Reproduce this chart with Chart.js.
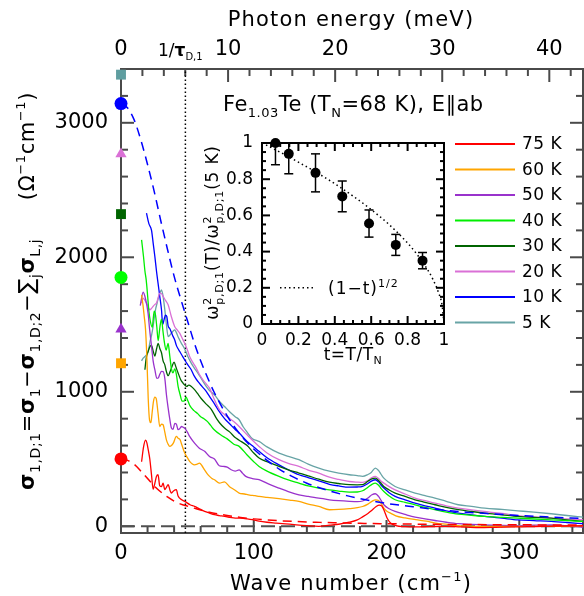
<!DOCTYPE html>
<html><head><meta charset="utf-8">
<script src="https://cdn.jsdelivr.net/npm/chart.js@4.4.1/dist/chart.umd.min.js"></script>
<style>
html,body{margin:0;padding:0;background:#fff;overflow:hidden}
#wrap{position:relative;width:584px;height:596px;overflow:hidden;background:#fff}
#main{position:absolute;left:0;top:0}
#inset{position:absolute;left:196px;top:122px}
</style></head><body>
<div id="wrap"><canvas id="main"></canvas><canvas id="inset"></canvas></div>
<script>
// ---------------- DATA ----------------
const temps = ['75 K','60 K','50 K','40 K','30 K','20 K','10 K','5 K'];
const colors = ['#ff0000','#ffa500','#9932cc','#00ee00','#006400','#da70d6','#0000ff','#68a4a6'];
const markerColors = ['#ff0000','#ffa500','#9932cc','#00ff00','#006400','#da70d6','#0000ff','#5f9ea0'];
const markerStyles = ['circle','rect','triangle','circle','rect','triangle','circle','rect'];
const sigmaD0 = [501, 1212, 1465, 1850, 2321, 2768, 3143, 3358];

const wn75 = [15.5,17,18.5,19.5,20.5,21.7,23,24.2,25.5,26.7,27.9,29.2,30.5,31.7,33,34.2,35.5,37,38,39.5,41.7,43,46,48,52,55.4,59,63,66.7,70.4,74,78,82,86,90,95,99,104,110,117,124,132,140,149,157,164,172,178,182,186,189,192,194.5,196.5,198.5,200.5,203,207,214,222,232,244,256,269,282,294,306,319,333,348];
const sig75 = [480,590,640,620,570,500,380,275,320,370,383,300,295,321,272,290,309,265,247,262,272,225,195,185,160,148,130,111,98,86,80,73,67,61,60,55,49,38,30,24,18,11,5,0,8,15,30,48,70,95,120,145,158,150,110,60,25,5,-3,-5,-2,0,-5,-10,-8,-5,-3,0,2,4];

const wn60 = [15.5,16.5,17.5,18.5,19.5,20.5,21.5,22.5,23.5,24.5,25.5,26.5,27.9,29.2,30.5,31.7,33,34.2,35.5,36.7,38,39.5,41.7,43,44.5,46,48,50,51.7,53.5,55.4,57,59.2,61,62.9,65,66.7,68.5,70.4,74.2,77.9,81.6,85.4,89,93,97,101,104,110,119,127,134,141,149,157,164,172,178,182,186,189,191.6,194,196,198,200.5,203,207,214,222,230,237,246,254,266,280,295,310,330,348];
const sig60 = [1720,1650,1560,1460,1250,950,790,770,850,930,960,950,842,742,760,755,700,643,610,594,600,620,668,655,643,600,544,510,482,465,457,460,470,450,420,390,371,355,346,321,330,296,272,247,240,232,228,222,215,205,195,185,165,148,123,125,131,138,147,165,185,197,192,170,135,110,98,78,62,49,38,24,14,4,0,-1,-1,0,0,4];

const wn50 = [14.5,16.7,18.5,20.4,21.5,23,24.2,25.5,27,28,29.2,30.5,31.7,33,34.2,35.5,36.7,38,39.2,40.5,41.7,43,44.2,45.5,47,48,50,51.7,55.4,59,63,66.7,70.4,74,77,80,83,86,89,91.5,94,99,104,111,119,126,134,141,149,157,164,172,178,182,186,189,191.6,194,196,198,202,206.5,214,221.5,229,236.5,245,254,264,274,287,299,311,324,336,348];
const sig50 = [1640,1740,1690,1585,1470,1337,1230,1164,1100,1102,1130,1151,1150,1100,980,880,800,730,720,765,760,718,725,742,735,730,700,668,618,581,557,519,500,450,445,440,420,410,420,395,371,355,346,315,284,258,234,222,210,197,190,185,183,188,210,234,242,222,190,160,130,110,88,68,55,43,30,19,14,11,6,4,8,11,2,-6];

const wn40 = [15.5,17,18,19,20,21,22,23.5,25,26,27,28,29.3,30.5,31.5,32.5,34,35.5,36.7,38,39.2,40.5,41.7,43,44.5,46,47.5,49,50.5,52,55,57.5,60,62.5,65,67.5,70,75,80,85,89,95,100,104,110,119,126,134,141,149,157,164,172,178,182,186,189,191.6,194,196,198,202,206.5,214,221.5,229,236.5,245,254,264,274,287,299,311,324,336,348];
const sig40 = [2130,2000,1900,1830,1720,1600,1530,1480,1600,1570,1480,1380,1480,1540,1460,1380,1310,1360,1270,1170,1140,1170,1130,1040,980,930,930,960,930,895,860,840,815,800,780,750,720,680,650,610,594,530,480,445,410,371,345,321,300,284,271,262,254,255,264,290,312,321,305,280,259,225,197,178,160,140,123,105,90,82,73,66,60,54,48,42,36];

const wn30 = [18,19,20.4,22,23,24.3,25.5,26.8,28,29.3,30.5,31.7,33,34.2,35.5,37,38.5,40,41.5,43,45,46.7,48,49.5,51,53,55,56.7,58.5,60.4,64,68,72,74.2,78,82,86,89,95,100,104,110,119,126,134,141,149,157,164,172,178,182,186,189,191.6,194,196,198,202,206.5,214,221.5,229,236.5,245,254,264,274,287,299,311,324,336,348];
const sig30 = [1164,1250,1300,1340,1345,1300,1265,1320,1360,1320,1290,1230,1200,1150,1120,1150,1190,1220,1180,1140,1090,1065,1050,1040,1050,1040,1020,1000,975,950,910,870,800,770,730,700,660,640,600,545,507,480,445,420,396,375,350,328,318,309,308,309,335,352,358,340,318,296,270,247,222,197,178,160,140,123,110,98,85,73,66,61,48,36];

const wn20 = [15.5,16.7,18,19.2,20.5,21.7,23,24.2,25.5,26.7,28,29.2,30.5,31.7,33.5,35.5,37.9,40.4,42.3,44.2,46,47.9,50,51.7,54,56.7,59,61.7,64,66.7,70,74.2,78,82,86,89,95,100,104,110,119,126,134,141,149,157,164,172,178,182,186,189,191.6,194,196,198,202,206.5,214,221.5,229,236.5,245,254,264,274,287,299,311,324,336,348];
const sig20 = [1659,1697,1680,1659,1630,1610,1620,1635,1650,1659,1700,1734,1730,1709,1680,1647,1560,1486,1460,1436,1400,1362,1310,1263,1220,1176,1130,1089,1060,1027,950,866,830,800,770,742,680,630,594,545,495,468,445,418,395,365,348,333,328,326,340,362,371,355,335,321,295,271,240,210,190,172,152,135,122,110,95,79,70,61,55,48];

const wn10 = [19.2,21,23,24.3,25.5,26.7,27.9,29.2,30.5,31.4,32.4,33.5,34.5,35.5,36.7,38,39.2,40.4,41.7,43,44.2,46,47.9,50,52.9,55,57.9,61,64.2,67,70.4,74.2,78,82,86,89,95,100,104,110,119,126,134,141,149,157,164,172,178,182,186,189,191.6,194,196,198,202,206.5,214,221.5,229,236.5,245,254,264,274,287,299,311,324,336,348];
const sig10 = [2328,2250,2200,2100,2006,1900,1808,1710,1610,1500,1535,1570,1560,1490,1470,1440,1412,1387,1345,1320,1300,1270,1238,1205,1164,1120,1077,1040,1003,960,910,850,800,760,720,693,630,590,557,510,457,420,383,362,338,312,300,291,292,297,318,338,346,330,305,284,250,222,196,172,152,135,115,98,85,73,60,48,42,36,28,19];

const wn5 = [15.5,16.7,18,19.2,20.5,22,23,24.2,25.2,26.2,27.2,28.2,29.2,30.5,31.7,33,34.2,35.5,36.7,37.9,39.2,40.4,41.7,42.9,44.2,45.4,47.9,50,52.9,55,57.9,61,64.2,67,70.4,74.2,78,82,86,89,92,95,99,101.5,104,110,119,126,134,141,149,157,164,172,178,182,186,188.5,191.6,194,196,198,202,206.5,214,221.5,229,236.5,245,254,264,274,287,299,311,324,336,348];
const sig5 = [1230,1250,1262,1275,1300,1380,1420,1486,1560,1620,1660,1700,1730,1758,1710,1610,1500,1411,1420,1436,1450,1461,1440,1411,1385,1362,1320,1270,1213,1180,1139,1090,1040,1005,978,928,890,850,815,792,740,700,650,640,631,590,544,520,495,462,433,410,395,383,377,371,385,400,433,415,385,358,325,296,270,247,228,210,185,160,148,135,125,115,105,93,80,68];

const wnFit = [0,5,10,15,20,25,30,35,40,45,50,55,60,65,70,80,90,100,110,120,130,140,150,160,170,180,190,200,220,240,260,280,300,320,348];
const fit10 = [3143,3110,3020,2870,2690,2490,2270,2060,1860,1690,1530,1370,1230,1110,1000,820,680,575,490,420,365,320,285,255,228,205,187,170,145,122,105,92,80,70,58];
const fit75 = [501,490,460,410,355,300,255,218,187,165,150,135,120,108,97,80,66,55,47,41,36,32,29,26,24,22,20,19,16,14,13,12,11,10,9];

const zeroX = [0, 348];
const zeroY = [0, 0];
const tauInv = 48.5;          // 1/tau_D,1 in cm^-1
const cmPerMeV = 8.0655;
const xMin = 0, xMax = 348, yMin = -50, yMax = 3400;
const xTickVals = [0, 100, 200, 300];
const yTickVals = [0, 1000, 2000, 3000];
const meVTickVals = [0, 10, 20, 30, 40];

// inset
const tVals = [0.074, 0.147, 0.294, 0.441, 0.588, 0.735, 0.882];
const ratioVals = [1.0, 0.94, 0.835, 0.705, 0.555, 0.437, 0.35];
const ratioErr = [0.12, 0.11, 0.105, 0.085, 0.075, 0.058, 0.045];
const tCurve = [0, 0.1, 0.2, 0.3, 0.4, 0.5, 0.6, 0.7, 0.8, 0.85, 0.9, 0.94, 0.97, 0.99, 1];
const yCurve = [1, 0.949, 0.894, 0.837, 0.775, 0.707, 0.632, 0.548, 0.447, 0.387, 0.316, 0.245, 0.173, 0.1, 0];
const insetTickVals = [0, 0.2, 0.4, 0.6, 0.8, 1];
const insetTickLabels = ['0', '0.2', '0.4', '0.6', '0.8', '1'];

// ---------------- HELPERS ----------------
const FONT = '"DejaVu Sans", sans-serif';
Chart.defaults.font.family = FONT;
Chart.defaults.color = '#000';
const pts = (xs, ys) => xs.map((x, i) => ({x: x, y: ys[i]}));

function segSize(s, base) { return s.size || ((s.sub || s.sup || s.stack) ? Math.round(base * 0.66) : base); }
function segFont(s, base) { return (s.b ? 'bold ' : '') + segSize(s, base) + 'px ' + FONT; }
function segW(ctx, s, base) {
  ctx.font = segFont(s, base);
  if (s.stack) return Math.max(ctx.measureText(s.stack[0]).width, ctx.measureText(s.stack[1]).width);
  return ctx.measureText(s.t).width;
}
function drawRich(ctx, x, y, segs, base, align, ls) {
  ctx.save();
  try { ctx.letterSpacing = ls || '0px'; } catch (e) {}
  ctx.textBaseline = 'alphabetic'; ctx.textAlign = 'left'; ctx.fillStyle = '#000';
  const ws = segs.map(s => segW(ctx, s, base));
  const total = ws.reduce((a, b) => a + b, 0);
  let cx = align === 'center' ? x - total / 2 : (align === 'right' ? x - total : x);
  segs.forEach((s, i) => {
    ctx.font = segFont(s, base);
    if (s.stack) {
      ctx.fillText(s.stack[0], cx, y - base * 0.42);
      ctx.fillText(s.stack[1], cx, y + base * 0.3);
    } else {
      const dy = s.dy != null ? s.dy : (s.sub ? base * 0.3 : (s.sup ? -base * 0.42 : 0));
      ctx.fillText(s.t, cx, y + dy);
    }
    cx += ws[i];
  });
  ctx.restore();
  return total;
}
function tick(ctx, x1, y1, x2, y2) { ctx.beginPath(); ctx.moveTo(x1, y1); ctx.lineTo(x2, y2); ctx.stroke(); }

// ---------------- MAIN CHART ----------------
const mainDecor = {
  id: 'mainDecor',
  beforeDatasetsDraw(chart) {
    const ctx = chart.ctx, a = chart.chartArea;
    const xs = chart.scales.x, ys = chart.scales.y, xt = chart.scales.x2;
    ctx.save();
    ctx.strokeStyle = '#4a4a4a'; ctx.lineWidth = 2;
    ctx.strokeRect(a.left, a.top, a.right - a.left, a.bottom - a.top);
    for (let v = 0; v <= yMax; v += 200) {
      const L = (v % 1000 === 0) ? 13 : 7, py = ys.getPixelForValue(v);
      tick(ctx, a.left, py, a.left + L, py);
      tick(ctx, a.right, py, a.right - L, py);
    }
    for (let v = 0; v <= xMax; v += 20) {
      const L = (v % 100 === 0) ? 13 : 7, px = xs.getPixelForValue(v);
      tick(ctx, px, a.bottom, px, a.bottom - L);
    }
    for (let v = 0; v <= xMax / cmPerMeV; v += 2) {
      const L = (v % 10 === 0) ? 13 : 7, px = xt.getPixelForValue(v);
      tick(ctx, px, a.top, px, a.top + L);
    }
    ctx.restore();
  },
  afterDraw(chart) {
    const ctx = chart.ctx, a = chart.chartArea;
    const cx = (a.left + a.right) / 2;
    // axis titles
    drawRich(ctx, cx - 1, 26, [{t: 'Photon energy (meV)'}], 21, 'center', '1.2px');
    drawRich(ctx, cx - 1, 590, [{t: 'Wave number (cm'}, {t: '−1', sup: true, size: 13}, {t: ')'}], 21, 'center', '1.2px');
    // 1/tau label
    const tx = chart.scales.x.getPixelForValue(tauInv);
    ctx.save(); ctx.translate(tx, 56);
    ctx.font = '17px ' + FONT;
    const w1 = (function(){ ctx.font = '17px ' + FONT; const a1 = ctx.measureText('1/').width; ctx.font = 'bold 17px ' + FONT; return a1 + ctx.measureText('τ').width; })();
    ctx.restore();
    drawRich(ctx, tx - w1, 56, [{t: '1/'}, {t: 'τ', b: true}, {t: 'D,1', size: 10, dy: 4}], 17, 'left', '0px');
    // y title (rotated)
    const formula = [
      {t: 'σ', b: true}, {t: '1,D;1', sub: true, size: 14},
      {t: '='}, {t: 'σ', b: true}, {t: '1', sub: true, size: 14},
      {t: '−'}, {t: 'σ', b: true}, {t: '1,D;2', sub: true, size: 14},
      {t: '−'}, {t: '∑', size: 22}, {t: 'j', sub: true, size: 14},
      {t: 'σ', b: true}, {t: 'L,j', sub: true, size: 14}
    ];
    const unit = [{t: '(Ω'}, {t: '−1', sup: true, size: 13}, {t: 'cm'}, {t: '−1', sup: true, size: 13}, {t: ')'}];
    ctx.save(); ctx.translate(34, 490); ctx.rotate(-Math.PI / 2);
    drawRich(ctx, 0, 0, formula, 21, 'left', '0.6px'); ctx.restore();
    ctx.save(); ctx.translate(34, 92); ctx.rotate(-Math.PI / 2);
    drawRich(ctx, 0, 0, unit, 21, 'right', '0.6px'); ctx.restore();
    // annotation
    drawRich(ctx, 223, 111, [{t: 'Fe'}, {t: '1.03', sub: true, size: 13}, {t: 'Te (T'}, {t: 'N', sub: true, size: 13}, {t: '=68 K), E∥ab'}], 21, 'left', '0.5px');
    // legend
    ctx.save();
    ctx.font = '17px ' + FONT; ctx.textBaseline = 'middle'; ctx.fillStyle = '#000';
    try { ctx.letterSpacing = '0.5px'; } catch (e) {}
    temps.forEach((lab, i) => {
      const y = 144 + i * 25.5;
      ctx.strokeStyle = colors[i]; ctx.lineWidth = 2;
      tick(ctx, 455, y, 515, y);
      ctx.fillText(lab, 522, y + 1);
    });
    ctx.restore();
  }
};

const datasets = [];
temps.forEach((t, i) => datasets.push({
  label: 'σD(0) ' + t, data: [{x: 0, y: sigmaD0[i]}], showLine: false,
  pointStyle: markerStyles[i], pointRadius: markerStyles[i] === 'rect' ? 7 : (markerStyles[i] === 'triangle' ? 6.5 : 6.5),
  pointBackgroundColor: markerColors[i], pointBorderColor: markerColors[i], pointBorderWidth: 0, clip: false
}));
datasets.push({label: 'fit 10 K', data: pts(wnFit, fit10), borderColor: '#0000ff', borderWidth: 1.5, borderDash: [9, 6], pointRadius: 0, cubicInterpolationMode: 'monotone'});
datasets.push({label: 'fit 75 K', data: pts(wnFit, fit75), borderColor: '#ff0000', borderWidth: 1.5, borderDash: [9, 6], pointRadius: 0, cubicInterpolationMode: 'monotone'});
const seriesWn = [wn75, wn60, wn50, wn40, wn30, wn20, wn10, wn5];
const seriesSig = [sig75, sig60, sig50, sig40, sig30, sig20, sig10, sig5];
temps.forEach((t, i) => datasets.push({
  label: t, data: pts(seriesWn[i], seriesSig[i]), borderColor: colors[i], borderWidth: 1.3,
  pointRadius: 0, cubicInterpolationMode: 'monotone'
}));
datasets.push({label: '1/tau', data: [{x: tauInv, y: yMin}, {x: tauInv, y: yMax}], borderColor: '#000', borderWidth: 1.5, borderDash: [1.5, 2.5], pointRadius: 0});
datasets.push({label: 'zero', data: pts(zeroX, zeroY), borderColor: '#505050', borderWidth: 2, borderDash: [14, 6], pointRadius: 0});

const mainCanvas = document.getElementById('main');
mainCanvas.width = 590; mainCanvas.height = 596;
new Chart(mainCanvas, {
  type: 'line',
  data: {datasets: datasets},
  options: {
    responsive: false, animation: false, events: [],
    layout: {padding: {left: 0, right: 5, top: 0, bottom: 0}},
    plugins: {legend: {display: false}, tooltip: {enabled: false}},
    scales: {
      x: {
        type: 'linear', position: 'bottom', min: xMin, max: xMax,
        grid: {display: false, drawTicks: false}, border: {display: false},
        ticks: {font: {size: 21}, color: '#000', padding: 8, maxRotation: 0, autoSkip: false, callback: v => String(v)},
        afterBuildTicks: s => { s.ticks = xTickVals.map(v => ({value: v})); },
        afterFit: s => { s.height = 63; }
      },
      x2: {
        type: 'linear', position: 'top', min: 0, max: xMax / cmPerMeV,
        grid: {display: false, drawTicks: false}, border: {display: false},
        ticks: {font: {size: 21}, color: '#000', padding: 7, maxRotation: 0, autoSkip: false, callback: v => String(v)},
        afterBuildTicks: s => { s.ticks = meVTickVals.map(v => ({value: v})); },
        afterFit: s => { s.height = 69; }
      },
      y: {
        type: 'linear', position: 'left', min: yMin, max: yMax,
        grid: {display: false, drawTicks: false}, border: {display: false},
        ticks: {font: {size: 21}, color: '#000', padding: 13, autoSkip: false, callback: v => String(v)},
        afterBuildTicks: s => { s.ticks = yTickVals.map(v => ({value: v})); },
        afterFit: s => { s.width = 121; }
      }
    }
  },
  plugins: [mainDecor]
});

// ---------------- INSET ----------------
const insetDecor = {
  id: 'insetDecor',
  beforeDatasetsDraw(chart) {
    const ctx = chart.ctx, a = chart.chartArea, xs = chart.scales.x, ys = chart.scales.y;
    ctx.save();
    ctx.strokeStyle = '#000'; ctx.lineWidth = 2;
    ctx.strokeRect(a.left, a.top, a.right - a.left, a.bottom - a.top);
    for (let k = 0; k <= 20; k++) {
      const v = k * 0.05, L = (k % 4 === 0) ? 8 : 4;
      const px = xs.getPixelForValue(v), py = ys.getPixelForValue(v);
      tick(ctx, px, a.bottom, px, a.bottom - L); tick(ctx, px, a.top, px, a.top + L);
      tick(ctx, a.left, py, a.left + L, py); tick(ctx, a.right, py, a.right - L, py);
    }
    // error bars
    ctx.beginPath(); ctx.rect(a.left, a.top, a.right - a.left, a.bottom - a.top); ctx.clip();
    ctx.lineWidth = 1.5;
    tVals.forEach((t, i) => {
      const px = xs.getPixelForValue(t);
      const y1 = ys.getPixelForValue(ratioVals[i] + ratioErr[i]);
      const y2 = ys.getPixelForValue(ratioVals[i] - ratioErr[i]);
      tick(ctx, px, y1, px, y2);
      tick(ctx, px - 4.5, y1, px + 4.5, y1);
      tick(ctx, px - 4.5, y2, px + 4.5, y2);
    });
    ctx.restore();
  },
  afterDraw(chart) {
    const ctx = chart.ctx, a = chart.chartArea;
    // legend for dotted curve
    ctx.save();
    ctx.strokeStyle = '#000'; ctx.lineWidth = 1.5; ctx.setLineDash([1.5, 3]);
    const ly = chart.scales.y.getPixelForValue(0.2);
    tick(ctx, a.left + 18, ly, a.left + 52, ly);
    ctx.restore();
    drawRich(ctx, a.left + 66, ly + 6, [{t: '(1−t)'}, {t: '1/2', sup: true, size: 11, dy: -7}], 17, 'left', '1px');
    // x title
    drawRich(ctx, (a.left + a.right) / 2, 238, [{t: 't=T/T'}, {t: 'N', sub: true, size: 11, dy: 4}], 17, 'center', '0.5px');
    // y title rotated
    ctx.save(); ctx.translate(22, (a.top + a.bottom) / 2 - 1); ctx.rotate(-Math.PI / 2);
    drawRich(ctx, 0, 0, [
      {t: 'ω'}, {stack: ['2', 'p,D;1'], size: 11},
      {t: '(T)/'},
      {t: 'ω'}, {stack: ['2', 'p,D;1'], size: 11},
      {t: '(5 K)'}
    ], 17, 'center', '0.8px');
    ctx.restore();
  }
};

const insetCanvas = document.getElementById('inset');
insetCanvas.width = 264; insetCanvas.height = 250;
new Chart(insetCanvas, {
  type: 'line',
  data: {datasets: [
    {label: 'ratio', data: pts(tVals, ratioVals), showLine: false, pointRadius: 5, pointBackgroundColor: '#000', pointBorderColor: '#000', pointBorderWidth: 0, clip: false},
    {label: '(1-t)^1/2', data: pts(tCurve, yCurve), borderColor: '#000', borderWidth: 1.5, borderDash: [1.5, 3], pointRadius: 0, cubicInterpolationMode: 'monotone'}
  ]},
  options: {
    responsive: false, animation: false, events: [],
    layout: {padding: {left: 0, right: 16, top: 21, bottom: 0}},
    plugins: {legend: {display: false}, tooltip: {enabled: false}},
    scales: {
      x: {
        type: 'linear', position: 'bottom', min: 0, max: 1,
        grid: {display: false, drawTicks: false}, border: {display: false},
        ticks: {font: {size: 17}, color: '#000', padding: 6, maxRotation: 0, autoSkip: false,
          callback: v => insetTickLabels[insetTickVals.findIndex(t => Math.abs(t - v) < 1e-6)]},
        afterBuildTicks: s => { s.ticks = insetTickVals.map(v => ({value: v})); },
        afterFit: s => { s.height = 48; }
      },
      y: {
        type: 'linear', position: 'left', min: 0, max: 1,
        grid: {display: false, drawTicks: false}, border: {display: false},
        ticks: {font: {size: 17}, color: '#000', padding: 9, autoSkip: false,
          callback: v => insetTickLabels[insetTickVals.findIndex(t => Math.abs(t - v) < 1e-6)]},
        afterBuildTicks: s => { s.ticks = insetTickVals.map(v => ({value: v})); },
        afterFit: s => { s.width = 66; }
      }
    }
  },
  plugins: [insetDecor]
});
</script>
</body></html>
